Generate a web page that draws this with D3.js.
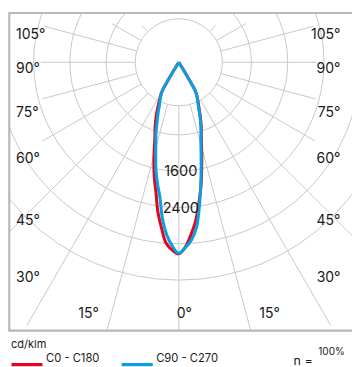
<!DOCTYPE html>
<html><head><meta charset="utf-8">
<script src="https://cdn.jsdelivr.net/npm/d3@7"></script>
<style>body{margin:0;background:#fff}svg{display:block}text{font-family:Inter,"Noto Sans",sans-serif;fill:#1a1a1a}</style>
</head><body><svg id="c" width="352" height="367"></svg>
<script>
// gamma angles (deg from nadir)
const angles = [0,2,4,6,8,10,12,14,16,18,20,22,24,26,28,30,31,32];
// intensities cd/klm
const c0   = [3421,3277,3013,2726,2352,1999,1624,1294,1007,809,716,628,545,485,430,364,220,0];
const c180 = [3421,3343,3200,2865,2521,2103,1796,1474,1153,904,764,676,588,507,441,370,222,0];
const c90  = [3410,3286,3134,2881,2440,1977,1569,1228,963,793,700,612,529,474,424,362,218,0];
const c270 = [3410,3255,3013,2660,2197,1911,1624,1305,1038,820,700,612,529,474,424,362,218,0];
const ringValues = [800,1600,2400,3200,4000];
const ringLabels = [1600,2400];
const spokeAngles = [0,15,30,45,60,75,90,105,120,135];
const sideLabels = ["105°","90°","75°","60°","45°","30°"];
const bottomLabels = ["15°","0°","15°"];
const legendNames = ["C0 - C180","C90 - C270"];
const legendColors = ["#e3051b","#0a9fe0"];

// layout
const W=352,H=367, cx=178.8, cy=62.3, rInner=43.6;
const spokeOuter = [400,400,304,400,157,141.6,138,139.5,77,52];
const sideY = [38.5,72.7,116.7,162.7,225,282.3];

const svg=d3.select("#c");
const r=d3.scaleLinear().domain([0,800,4000]).range([0,72.6,217.8]);

svg.append("defs").append("clipPath").attr("id","clip")
  .append("rect").attr("x",10).attr("y",14).attr("width",W).attr("height",316);

const g=svg.append("g").attr("clip-path","url(#clip)");
const grid=g.append("g").attr("transform",`translate(${cx},${cy})`).attr("fill","none").attr("stroke","#c9c9c9").attr("stroke-width",1);
grid.selectAll("circle.ring").data(ringValues).join("circle").attr("class","ring").attr("r",d=>r(d));
grid.append("circle").attr("r",rInner);
const sp=[];
spokeAngles.forEach((a,i)=>{ (a===0?[1]:[-1,1]).forEach(s=>sp.push({a,s,o:spokeOuter[i]})); });
grid.selectAll("line").data(sp).join("line")
  .attr("x1",d=>d.s*rInner*Math.sin(d.a*Math.PI/180)).attr("y1",d=>rInner*Math.cos(d.a*Math.PI/180))
  .attr("x2",d=>d.s*d.o*Math.sin(d.a*Math.PI/180)).attr("y2",d=>d.o*Math.cos(d.a*Math.PI/180));

// curves
const line=d3.lineRadial().angle(d=>d[0]).radius(d=>r(d[1])).curve(d3.curveCatmullRom.alpha(0.5));
function pts(left,right){
  const p=[];
  for(let i=angles.length-1;i>=0;i--) p.push([Math.PI+angles[i]*Math.PI/180,left[i]]);
  for(let i=1;i<angles.length;i++) p.push([Math.PI-angles[i]*Math.PI/180,right[i]]);
  return p;
}
const cg=g.append("g").attr("transform",`translate(${cx},${cy})`).attr("fill","none").attr("stroke-width",3).attr("stroke-linejoin","round");
cg.append("path").attr("d",line(pts(c180,c0))).attr("stroke",legendColors[0]);
cg.append("path").attr("d",line(pts(c270,c90))).attr("stroke",legendColors[1]);

// ring labels
svg.selectAll("text.rl").data(ringLabels).join("text").attr("class","rl")
  .attr("x",cx+2).attr("y",d=>cy+r(d)+5).attr("text-anchor","middle").attr("font-size",14.5).text(d=>d);

// frame
svg.append("path").attr("d",`M${W+5},13 H9.3 V330.6 H${W+5}`).attr("fill","none").attr("stroke","#b8b8b8").attr("stroke-width",2.2);

// angle labels
svg.selectAll("text.sl").data(sideLabels).join("text").attr("class","sl")
  .attr("x",16).attr("y",(d,i)=>sideY[i]).attr("font-size",14).text(d=>d);
svg.selectAll("text.sr").data(sideLabels).join("text").attr("class","sr")
  .attr("x",340.5).attr("text-anchor","end").attr("y",(d,i)=>sideY[i]).attr("font-size",14).text(d=>d);
const bx=[78.3,176.7,259.3];
svg.selectAll("text.bl").data(bottomLabels).join("text").attr("class","bl")
  .attr("x",(d,i)=>bx[i]).attr("y",318.3).attr("font-size",14).text(d=>d);

// legend
svg.append("text").attr("x",11).attr("y",347.5).attr("font-size",11).text("cd/klm");
const lx=[11.5,121.7];
legendNames.forEach((n,i)=>{
  svg.append("rect").attr("x",lx[i]).attr("y",363).attr("width",31).attr("height",3.2).attr("fill",legendColors[i]);
  svg.append("text").attr("x",lx[i]+34.5).attr("y",361.5).attr("font-size",11.2).text(n);
});
svg.append("text").attr("x",293.5).attr("y",364.5).attr("font-size",12.5).text("n =");
svg.append("text").attr("x",318.3).attr("y",355).attr("font-size",10).text("100%");
</script></body></html>
